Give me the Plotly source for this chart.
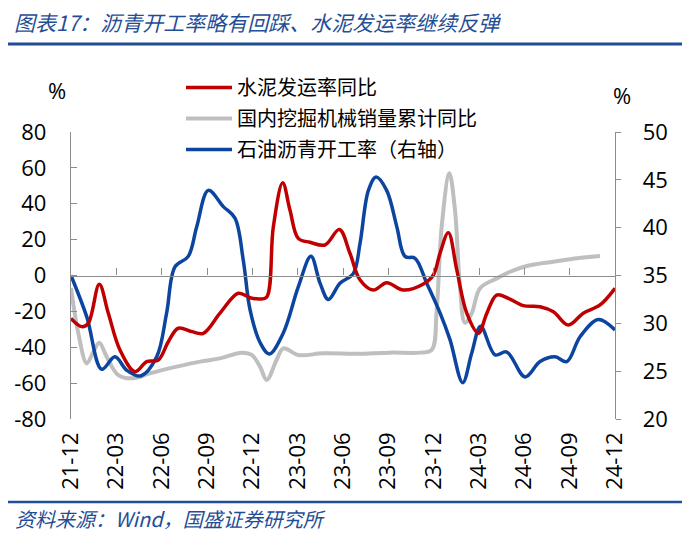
import plotly.graph_objects as go

# x positions are months since 2021-12 (0 = 21-12, 36 = 24-12)
tick_vals = [0, 3, 6, 9, 12, 15, 18, 21, 24, 27, 30, 33, 36]
tick_text = ["21-12", "22-03", "22-06", "22-09", "22-12", "23-03", "23-06",
             "23-09", "23-12", "24-03", "24-06", "24-09", "24-12"]
left_ticks = [-80, -60, -40, -20, 0, 20, 40, 60, 80]
left_text = ["-80", "-60", "-40", "-20", "0", "20", "40", "60", "80"]
right_ticks = [20, 25, 30, 35, 40, 45, 50]
right_text = ["20", "25", "30", "35", "40", "45", "50"]

cement_x = [0, 0.71, 1.14, 1.87, 2.47, 3.24, 4.24, 5.01, 5.78, 6.44, 7.10, 7.99, 8.76,
            9.86, 11.07, 11.85, 12.51, 12.95, 13.39, 14.01, 14.49, 15.04, 15.82, 16.81,
            17.76, 18.46, 19.13, 20.01, 20.89, 21.99, 23.32, 23.98, 24.42, 24.97, 25.53,
            26.19, 26.96, 27.52, 28.17, 28.94, 29.93, 31.04, 31.92, 32.91, 33.90, 35.01, 36]
cement_y = [-23.9, -28.5, -26.7, -4.9, -21, -41.5, -53.6, -48, -47.1, -36.9, -29.4, -31.3, -32.2,
            -21, -9.9, -12.4, -13.1, -12, 27.2, 51.7, 36.5, 20.7, 18.5, 17.0,
            25.7, 12.4, -2.5, -8.1, -4.0, -8.1, -4.7, 0.3, 12.4, 23.9, 3.1,
            -21, -32.2, -21, -10.9, -12.7, -16.8, -17.4, -20.2, -27.6, -21, -16.4, -7.1]

excav_x = [0, 0.48, 1.04, 1.48, 1.87, 2.36, 3.13, 4.12, 5.23, 7.0, 8.54, 9.86, 11.30, 11.96,
           12.51, 12.95, 13.61, 14.05, 15.04, 16.70, 18.91, 21.11, 23.10, 23.87, 24.20, 24.53,
           25.04, 25.41, 25.74, 26.07, 26.52, 27.07, 28.17, 29.05, 30.16, 31.92, 33.47, 35.01]
excav_y = [-7, -32, -49, -42.5, -37.5, -45.3, -55.5, -57.3, -54.5, -50.8, -48, -46.2, -43, -44.3,
           -50.8, -58.2, -47, -40.6, -44.3, -43.4, -43.6, -43, -43, -41.5, -19.2, 27.2,
           57.0, 36.5, -6.2, -26.3, -21, -7.1, -1.6, 2.1, 5.3, 7.7, 9.6, 10.9]

asphalt_x = [0, 1.04, 2.03, 2.91, 3.69, 4.61, 5.67, 6.33, 6.88, 7.76, 8.32, 9.09, 10.08, 10.85,
             11.40, 11.85, 12.51, 13.12, 14.05, 15.04, 15.88, 16.48, 17.03, 17.80, 18.68, 19.13,
             19.68, 20.19, 20.89, 21.56, 22.10, 22.77, 23.54, 24.42, 25.08, 25.92, 26.52, 27.11,
             28.06, 28.84, 30.05, 31.04, 32.03, 32.81, 33.69, 34.90, 36.0]
asphalt_y = [35.0, 30.7, 25.2, 26.5, 25.1, 24.5, 26.5, 31.1, 35.9, 37.0, 40.1, 43.9, 42.2, 41.0,
             36.6, 31.4, 28.0, 26.8, 29.0, 33.8, 37.0, 34.2, 32.5, 34.2, 35.2, 38.4,
             43.9, 45.3, 43.9, 40.1, 37.0, 36.8, 34.2, 31.1, 28.3, 23.8, 26.9, 29.7,
             26.7, 27.0, 24.4, 26.0, 26.5, 26.0, 28.6, 30.4, 29.3]

names = ["水泥发运率同比", "国内挖掘机械销量累计同比", "石油沥青开工率（右轴）"]
RED, GRAY, BLUE = "#C00000", "#BFBFBF", "#0B45A0"
TITLE_BLUE = "#1F4E96"
CJK = "Noto Sans CJK SC"
NUM = "Open Sans, Noto Sans CJK SC"

fig = go.Figure()
fig.add_trace(go.Scatter(x=cement_x, y=cement_y, name=names[0], mode="lines",
                         line=dict(color=RED, width=3.5, shape="spline", smoothing=1.0),
                         xaxis="x2", yaxis="y", legendgroup="a"))
fig.add_trace(go.Scatter(x=excav_x, y=excav_y, name=names[1], mode="lines",
                         line=dict(color=GRAY, width=4, shape="spline", smoothing=1.0),
                         xaxis="x", yaxis="y", legendgroup="b"))
fig.add_trace(go.Scatter(x=asphalt_x, y=asphalt_y, name=names[2], mode="lines",
                         line=dict(color=BLUE, width=3.5, shape="spline", smoothing=1.0),
                         xaxis="x", yaxis="y2", legendgroup="c"))

# the page body adds an 8px offset; figure is sized to compensate
OFF = 8
W, H = 700 - OFF, 544 - OFF
L, T = 71 - OFF, 132 - OFF
R = W - (615 - OFF)
B = H - (419 - OFF)
pw, ph = W - L - R, H - T - B

def px(x):  # page pixel -> paper fraction
    return (x - OFF - L) / pw

def py(y):
    return (H - B - (y - OFF)) / ph

axis_gray = "#8C8C8C"
pad = "\u00a0\u00a0\u00a0"
fig.update_layout(
    width=W, height=H, margin=dict(l=L, r=R, t=T, b=B, autoexpand=False),
    paper_bgcolor="white", plot_bgcolor="white",
    font=dict(family=CJK, color="black"),
    showlegend=True,
    legend=dict(x=px(181), y=py(68), xanchor="left", yanchor="top",
                font=dict(family=CJK, size=20, color="black"),
                bgcolor="rgba(0,0,0,0)", traceorder="grouped", tracegroupgap=2,
                itemwidth=46),
    xaxis=dict(range=[0, 36], tickvals=tick_vals, ticktext=tick_text, tickangle=-90,
               ticks="", showline=False, showgrid=False, zeroline=False,
               tickfont=dict(family=NUM, size=22, color="black"), ticklabelstandoff=8),
    xaxis2=dict(range=[0, 36], overlaying="x", anchor="free", position=0.5, side="bottom",
                tickvals=tick_vals, ticks="inside", ticklen=7, tickcolor=axis_gray,
                showline=True, linecolor=axis_gray, linewidth=1.3,
                showticklabels=False, showgrid=False, zeroline=False),
    yaxis=dict(range=[-80, 80], tickvals=left_ticks, ticktext=left_text,
               ticks="inside", ticklen=6,
               tickcolor=axis_gray, showline=True, linecolor=axis_gray, linewidth=1.3,
               showgrid=False, zeroline=False,
               tickfont=dict(family=NUM, size=22, color="black"), ticklabelstandoff=19),
    yaxis2=dict(range=[20, 50], tickvals=right_ticks, ticktext=[pad + t for t in right_text],
                overlaying="y", side="right",
                ticks="outside", ticklen=5, tickcolor=axis_gray, showline=True,
                linecolor=axis_gray, linewidth=1.3, showgrid=False, zeroline=False,
                tickfont=dict(family=NUM, size=22, color="black")),
)

fig.add_annotation(text="%", xref="paper", yref="paper", x=px(57), y=py(90),
                   xanchor="center", yanchor="middle",
                   showarrow=False, font=dict(family=NUM, size=22, color="black"))
fig.add_annotation(text="%", xref="paper", yref="paper", x=px(622), y=py(95),
                   xanchor="center", yanchor="middle",
                   showarrow=False, font=dict(family=NUM, size=22, color="black"))
fig.add_annotation(text="<i>图表17：沥青开工率略有回踩、水泥发运率继续反弹</i>",
                   xref="paper", yref="paper", x=px(12), y=py(22), xanchor="left",
                   yanchor="middle", showarrow=False,
                   font=dict(family=CJK, size=21, color=TITLE_BLUE))
fig.add_annotation(text="<i>资料来源：Wind，国盛证券研究所</i>",
                   xref="paper", yref="paper", x=px(13), y=py(518), xanchor="left",
                   yanchor="middle", showarrow=False,
                   font=dict(family=CJK, size=20, color=TITLE_BLUE))
fig.add_shape(type="line", xref="paper", yref="paper", x0=px(8), x1=px(682),
              y0=py(44), y1=py(44), line=dict(color=TITLE_BLUE, width=3))
fig.add_shape(type="line", xref="paper", yref="paper", x0=px(8), x1=px(682),
              y0=py(502), y1=py(502), line=dict(color=TITLE_BLUE, width=2.5))

fig.write_html("out.html")
